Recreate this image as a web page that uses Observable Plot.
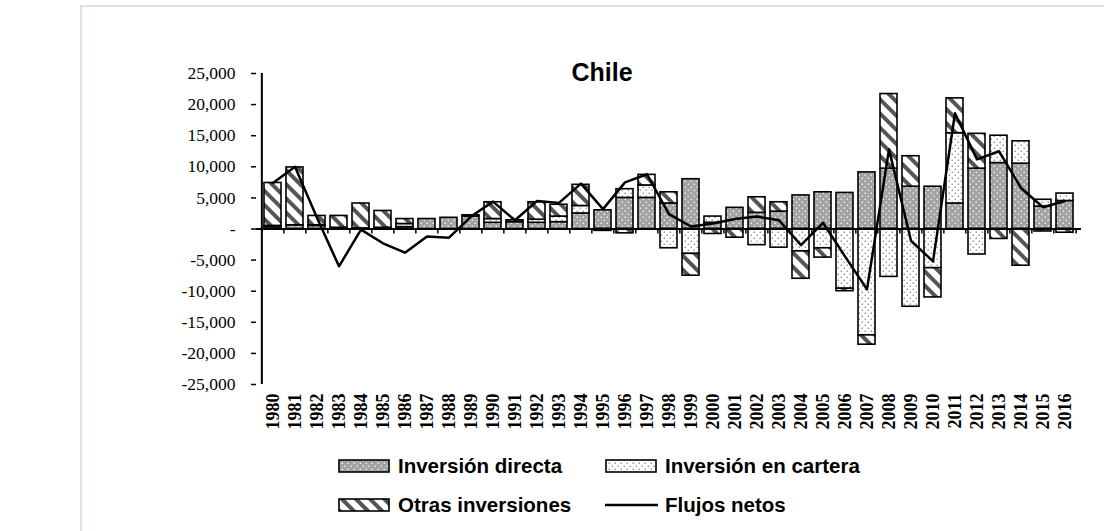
<!DOCTYPE html>
<html>
<head>
<meta charset="utf-8">
<script src="https://cdn.jsdelivr.net/npm/d3@7"></script>
<script src="https://cdn.jsdelivr.net/npm/@observablehq/plot@0.6"></script>
<style>
  html, body { margin: 0; padding: 0; background: #fff; }
  body { width: 1104px; height: 531px; position: relative; overflow: hidden; font-family: "Liberation Sans", Arial, sans-serif; }
  #frame { position: absolute; left: 80px; top: 5px; width: 1100px; height: 600px; border: 2px solid #dde2e8; box-sizing: border-box; }
  #chart { position: absolute; left: 0; top: 0; }
  #title { position: absolute; left: 602px; top: 60px; transform: translateX(-50%); font-size: 25px; line-height: 25px; font-weight: bold; color: #000; white-space: nowrap; }
  .item { position: absolute; display: flex; align-items: center; height: 20px; font-size: 20.5px; line-height: 20px; font-weight: bold; color: #000; white-space: nowrap; }
  .item svg { margin-right: 7px; display: block; }
</style>
</head>
<body>
<svg width="0" height="0" style="position:absolute">
  <defs>
    <pattern id="pDirecta" patternUnits="userSpaceOnUse" width="6" height="6">
      <rect width="6" height="6" fill="#a3a3a3"></rect>
      <rect x="0.6" y="0.6" width="1.3" height="1.3" fill="#ffffff"></rect>
      <rect x="3.6" y="3.6" width="1.3" height="1.3" fill="#ffffff"></rect>
    </pattern>
    <pattern id="pCartera" patternUnits="userSpaceOnUse" width="6" height="6">
      <rect width="6" height="6" fill="#ffffff"></rect>
      <rect x="0.6" y="0.6" width="1.3" height="1.3" fill="#808080"></rect>
      <rect x="3.6" y="3.6" width="1.3" height="1.3" fill="#808080"></rect>
    </pattern>
    <pattern id="pOtras" patternUnits="userSpaceOnUse" width="10" height="10" patternTransform="rotate(-45)">
      <rect width="10" height="10" fill="#ffffff"></rect>
      <rect x="0" y="0" width="4" height="10" fill="#555555"></rect>
    </pattern>
  </defs>
</svg>
<div id="frame"></div>
<div id="chart"></div>
<div id="title">Chile</div>
<div id="legend"></div>
<script>
// ---- Data (USD millions) ----
const years = [1980,1981,1982,1983,1984,1985,1986,1987,1988,1989,1990,1991,1992,1993,1994,1995,1996,1997,1998,1999,2000,2001,2002,2003,2004,2005,2006,2007,2008,2009,2010,2011,2012,2013,2014,2015,2016];
const directa = [300,600,500,200,100,200,300,1600,1800,2000,1000,1100,1000,1100,2500,3000,5000,5000,4100,8000,1000,3400,2600,2800,5400,5900,5800,9100,9700,6800,6800,4100,9700,10600,10500,3600,4500];
const cartera = [200,0,100,0,0,0,500,0,0,0,600,0,500,900,1200,0,1400,2000,-3100,-4000,1000,0,-2600,-3000,-3600,-3100,-9600,-17100,-7700,-12500,-6300,11300,-4100,4400,3600,1100,1200];
const otras = [6900,9300,1500,1900,4000,2700,800,0,0,200,2700,300,2800,1900,3400,-300,-700,1700,1800,-3500,-800,-1400,2500,1500,-4400,-1500,-400,-1500,12000,4900,-4700,5600,5600,-1600,-5900,-400,-600];
const netos = [7400,10000,1800,-6000,-100,-2300,-3800,-1200,-1400,2000,4400,1400,4500,4200,7300,3200,7500,8800,2400,400,900,1600,2000,1400,-2600,1000,-4400,-9700,12800,-1900,-5200,18600,11200,12500,6600,3500,4500];
const seriesNames = ["Inversión directa", "Inversión en cartera", "Otras inversiones"];
const lineName = "Flujos netos";
const yTicks = [-25000,-20000,-15000,-10000,-5000,0,5000,10000,15000,20000,25000];
const patterns = ["url(#pDirecta)", "url(#pCartera)", "url(#pOtras)"];

// ---- Build tables ----
const rows = [];
years.forEach((yr, i) => {
  [directa, cartera, otras].forEach((arr, k) => {
    if (arr[i] !== 0) rows.push({year: yr, serie: seriesNames[k], value: arr[i]});
  });
});
const net = years.map((yr, i) => ({year: yr, value: netos[i]}));

const W = 1104, H = 440, ML = 256, MR = 23, MT = 73, MB = 56;
const step = (W - ML - MR) / years.length;
const fmt = v => v === 0 ? "-" : (v < 0 ? "-" : "") + d3.format(",")(Math.abs(v));

const plot = Plot.plot({
  width: W, height: H,
  marginLeft: ML, marginRight: MR, marginTop: MT, marginBottom: MB,
  style: {background: "transparent", fontFamily: "'Liberation Serif', 'Times New Roman', serif", color: "#000", overflow: "visible"},
  x: {type: "band", domain: years, paddingInner: 0.22, paddingOuter: 0.11, label: null},
  y: {domain: [-25000, 25000], label: null},
  color: {type: "ordinal", domain: seriesNames, range: patterns},
  marks: [
    Plot.axisY({ticks: yTicks, tickSize: 5, tickPadding: 16, tickFormat: fmt, fontSize: 17.5, strokeWidth: 1.5, label: null}),
    Plot.ruleX([0], {x: () => years[0], y1: -25000, y2: 25000, dx: -step / 2, stroke: "#000", strokeWidth: 2}),
    Plot.axisX({tickSize: 0, tickPadding: 9, tickRotate: -90, tickFormat: d => String(d), fontSize: 18, fontWeight: "bold", label: null}),
    Plot.barY(rows, {x: "year", y: "value", fill: "serie", stroke: "#000", strokeWidth: 1.6}),
    Plot.ruleY([0], {stroke: "#000", strokeWidth: 2.2}),
    Plot.ruleX(years, {x: d => d, y1: 0, y2: -800, dx: -step / 2, stroke: "#000", strokeWidth: 1.5}),
    Plot.ruleX([years[years.length - 1]], {x: d => d, y1: 0, y2: -800, dx: step / 2, stroke: "#000", strokeWidth: 1.5}),
    Plot.line(net, {x: "year", y: "value", stroke: "#000", strokeWidth: 2.5})
  ]
});
document.getElementById("chart").appendChild(plot);

// ---- Legend ----
const legend = document.getElementById("legend");
const items = [
  {name: seriesNames[0], kind: "bar", fill: patterns[0], left: 338, top: 456},
  {name: seriesNames[1], kind: "bar", fill: patterns[1], left: 605, top: 456},
  {name: seriesNames[2], kind: "bar", fill: patterns[2], left: 338, top: 495},
  {name: lineName, kind: "line", left: 605, top: 495}
];
items.forEach(it => {
  const div = document.createElement("div");
  div.className = "item";
  div.style.left = it.left + "px";
  div.style.top = it.top + "px";
  const ns = "http://www.w3.org/2000/svg";
  const sw = document.createElementNS(ns, "svg");
  sw.setAttribute("width", 53);
  sw.setAttribute("height", 14);
  if (it.kind === "bar") {
    const r = document.createElementNS(ns, "rect");
    r.setAttribute("x", 1); r.setAttribute("y", 1);
    r.setAttribute("width", 50); r.setAttribute("height", 12);
    r.setAttribute("fill", it.fill);
    r.setAttribute("stroke", "#000"); r.setAttribute("stroke-width", 1.6);
    sw.appendChild(r);
  } else {
    const l = document.createElementNS(ns, "line");
    l.setAttribute("x1", 0); l.setAttribute("x2", 53);
    l.setAttribute("y1", 7); l.setAttribute("y2", 7);
    l.setAttribute("stroke", "#000"); l.setAttribute("stroke-width", 2.5);
    sw.appendChild(l);
  }
  div.appendChild(sw);
  const t = document.createElement("span");
  t.textContent = it.name;
  div.appendChild(t);
  legend.appendChild(div);
});
</script>
</body>
</html>
